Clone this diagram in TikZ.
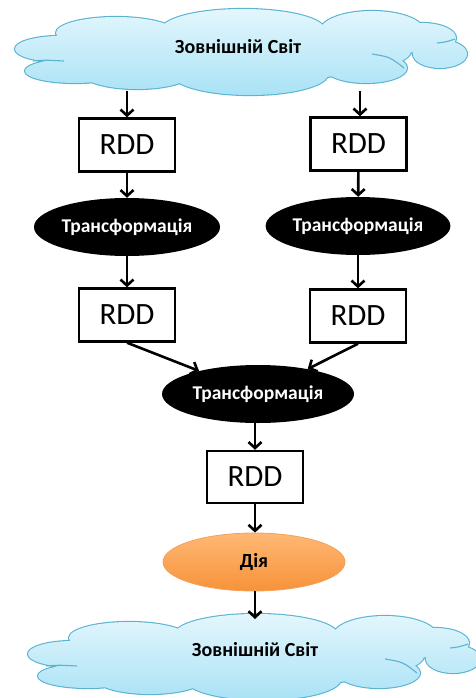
\documentclass[tikz,border=0pt]{standalone}
\usepackage{fontspec}
\setmainfont{Carlito}
\usetikzlibrary{shapes.geometric,arrows.meta}
\definecolor{cloudline}{HTML}{5BB3D2}
\definecolor{cloudtop}{HTML}{E6F7FD}
\definecolor{cloudbot}{HTML}{A6E1F5}
\definecolor{orgtop}{HTML}{FFB874}
\definecolor{orgbot}{HTML}{F7923A}
\definecolor{orgline}{HTML}{F2A15A}
\tikzset{
  cloudedge/.style={draw=cloudline, line width=2.2pt},
  creaseline/.style={draw=cloudline, line width=1.1pt},
  cloudtext/.style={inner sep=0pt, font=\fontsize{20}{24}\selectfont\bfseries},
  rddbox/.style={rectangle, draw=black, line width=2.4pt, fill=white,
    minimum width=96pt, minimum height=53pt, inner sep=0pt,
    font=\fontsize{31}{34}\selectfont},
  transf/.style={ellipse, fill=black, text=white, minimum width=186pt, minimum height=58pt,
    inner sep=0pt, font=\fontsize{19.5}{22}\selectfont\bfseries},
  action/.style={ellipse, draw=orgline, line width=0.8pt, top color=orgtop, bottom color=orgbot,
    minimum width=182pt, minimum height=58pt, inner sep=0pt,
    font=\fontsize{20}{24}\selectfont\bfseries},
  arr/.style={draw=black, line width=2.6pt, -{Straight Barb[length=6pt,width=13pt,line width=2.6pt]}}
}
\newcommand{\cloudlobes}{%
  (75,71) ellipse [x radius=50pt, y radius=12pt]
  (60,49) ellipse [x radius=45pt, y radius=13pt]
  (116,33) ellipse [x radius=60pt, y radius=16pt]
  (243,30) ellipse [x radius=82pt, y radius=21pt]
  (372,31) ellipse [x radius=52pt, y radius=20pt]
  (422,38) ellipse [x radius=34pt, y radius=15pt]
  (440,54) ellipse [x radius=27pt, y radius=14pt]
  (366,68) ellipse [x radius=41pt, y radius=15pt]
  (250,74) ellipse [x radius=78pt, y radius=21pt]
  (137,73) ellipse [x radius=55pt, y radius=16pt]
  (241,51) ellipse [x radius=170pt, y radius=30pt]}
\newcommand{\drawcloud}[1]{%
  \begin{scope}[shift={#1}]
    \path[cloudedge] \cloudlobes;
    \begin{scope}
      \clip \cloudlobes;
      \shade[top color=cloudtop, bottom color=cloudbot] (10,5) rectangle (475,100);
    \end{scope}
    \draw[creaseline] (33,61) .. controls (45,60) .. (64,61);
    \draw[creaseline] (372,54) .. controls (390,57) .. (404,68);
    \draw[creaseline] (437,43) .. controls (446,42) .. (455,39);
  \end{scope}}
\begin{document}
\begin{tikzpicture}[x=1pt,y=-1pt]
\useasboundingbox (0,0) rectangle (475,698);
\drawcloud{(0,0)}
\drawcloud{(13,605)}
\node[cloudtext] (top) at (238,47) {Зовнішній Світ};
\node[cloudtext] (bot) at (255,650) {Зовнішній Світ};
\node[rddbox] (r1l) at (127,145) {RDD};
\node[rddbox] (r1r) at (358.5,144) {RDD};
\node[transf] (t1l) at (127,227) {Трансформація};
\node[transf, minimum width=184pt] (t1r) at (358,226) {Трансформація};
\node[rddbox] (r2l) at (127,315) {RDD};
\node[rddbox] (r2r) at (358,316) {RDD};
\node[transf, minimum width=192pt] (tc) at (258,394) {Трансформація};
\node[rddbox, minimum height=52pt] (r3) at (255,477) {RDD};
\node[action] (act) at (254,562) {Дія};
\coordinate (s1) at (127,91);
\coordinate (s2) at (360,91);
\draw[arr] (s1) -- (r1l.north);
\draw[arr] (s2) -- (s2 |- r1r.north);
\draw[arr] (r1l) -- (t1l);
\draw[arr] (r1r) -- (t1r);
\draw[arr] (t1l) -- (r2l);
\draw[arr] (t1r) -- (r2r);
\draw[arr] (r2l.south) -- (tc);
\draw[arr] (r2r.south) -- (tc);
\draw[arr] (tc.south -| r3) -- (r3);
\draw[arr] (r3) -- (act.north -| r3);
\coordinate (e) at (255,619);
\draw[arr] (act.south -| r3) -- (e);
\end{tikzpicture}
\end{document}
